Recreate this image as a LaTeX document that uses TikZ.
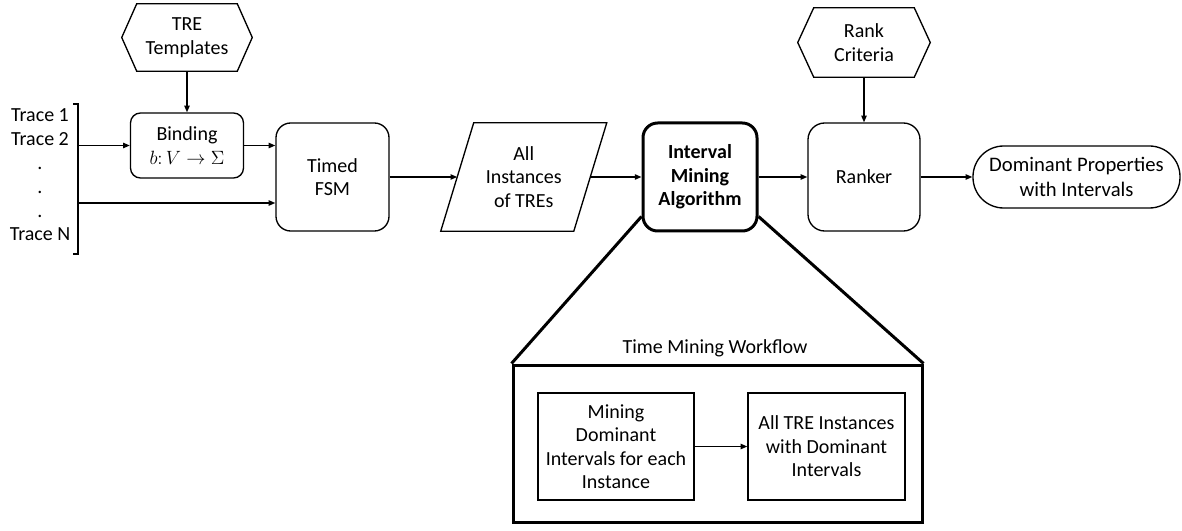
\documentclass[tikz,border=0pt]{standalone}
\usepackage{fontspec}
\setmainfont{Carlito}
\usetikzlibrary{arrows.meta,calc}
\begin{document}
\begin{tikzpicture}[x=0.75pt,y=-0.75pt,
  every node/.style={font=\fontsize{15}{17.6}\selectfont, align=center, inner sep=0pt},
  ln/.style={line width=1pt},
  thickln/.style={line width=2.25pt},
  rbox/.style={draw, ln, rounded corners=11pt, minimum height=81pt},
  arr/.style={ln, -{Triangle[length=5pt,width=4pt]}}
]
\useasboundingbox (0,0) rectangle (1182,531);

% hexagon inputs
\node (tre) [minimum width=75pt, minimum height=50.25pt] at (187,37.5) {TRE\\Templates};
\draw[ln] (tre.north west) -- (tre.north east) -- ($(tre.east)+(15,0)$) -- (tre.south east)
  -- (tre.south west) -- ($(tre.west)+(-15,0)$) -- cycle;

\node (rc) [minimum width=75pt, minimum height=51.75pt] at (864,42.5) {Rank\\Criteria};
\draw[ln] (rc.north west) -- (rc.north east) -- ($(rc.east)+(16,0)$) -- (rc.south east)
  -- (rc.south west) -- ($(rc.west)+(-16,0)$) -- cycle;

% traces
\node (traces) at (40,175) [font=\fontsize{15}{17.85}\selectfont] {Trace 1\\Trace 2\\.\\.\\.\\Trace N};
\draw[ln] (73,104) -- (78,104) -- (78,254) -- (73,254);
\coordinate (b1) at (78,145.5);
\coordinate (b2) at (78,203);

% main boxes
\node (bind) [draw, ln, rounded corners=7.5pt, minimum width=84.75pt, minimum height=48.75pt] at (187,145.5) {Binding\\$b\colon V \rightarrow \Sigma$};
\node (fsm) [rbox, minimum width=84.75pt] at (332.5,177) {Timed\\FSM};
\node (all) [minimum width=99.4pt, minimum height=81pt] at (523.75,177) {All\\Instances\\of TREs};
\draw[ln] ($(all.north west)+(16.5,0)$) -- ($(all.north east)+(16.5,0)$)
  -- ($(all.south east)+(-16.5,0)$) -- ($(all.south west)+(-16.5,0)$) -- cycle;
\node (ima) [rbox, thickln, minimum width=85.5pt, font=\fontsize{15}{17.6}\selectfont\bfseries] at (700,177) {Interval\\Mining\\Algorithm};
\node (ranker) [rbox, rounded corners=12.5pt, minimum width=84pt] at (864,177) {Ranker};
\node (dom) [draw, ln, rounded corners=23pt, minimum width=155.25pt, minimum height=46.5pt, font=\fontsize{15.5}{18.5}\selectfont] at (1076.5,177) {Dominant Properties\\with Intervals};

% connectors
\draw[arr] (tre) -- (bind);
\draw[arr] (rc) -- (ranker);
\draw[arr] (b1) -- (bind.west);
\draw[arr] (b2) -- (b2 -| fsm.west);
\draw[arr] (bind.east) -- (bind.east -| fsm.west);
\draw[arr] (fsm.east) -- (all.west);
\draw[arr] (all.east) -- (ima.west);
\draw[arr] (ima.east) -- (ranker.west);
\draw[arr] (ranker.east) -- (dom.west);

% workflow zoom
\node (wf) [draw, thickln, minimum width=306.75pt, minimum height=117.75pt] at (717.5,443.5) {};
\node (wft) at (715,348) {Time Mining Workflow};
\coordinate (zl) at ($(ima.south west)+(0,-16)$);
\coordinate (zr) at ($(ima.south east)+(0,-16)$);
\draw[thickln] (zl) -- (wf.north west);
\draw[thickln] (zr) -- (wf.north east);

\node (m1) [draw, ln, minimum width=117pt, minimum height=80.25pt] at (616,446.5) {Mining\\Dominant\\Intervals for each\\Instance};
\node (m2) [draw, ln, minimum width=117.75pt, minimum height=80.25pt] at (826.5,446.5) {All TRE Instances\\with Dominant\\Intervals};
\draw[arr] (m1) -- (m2);
\end{tikzpicture}
\end{document}
